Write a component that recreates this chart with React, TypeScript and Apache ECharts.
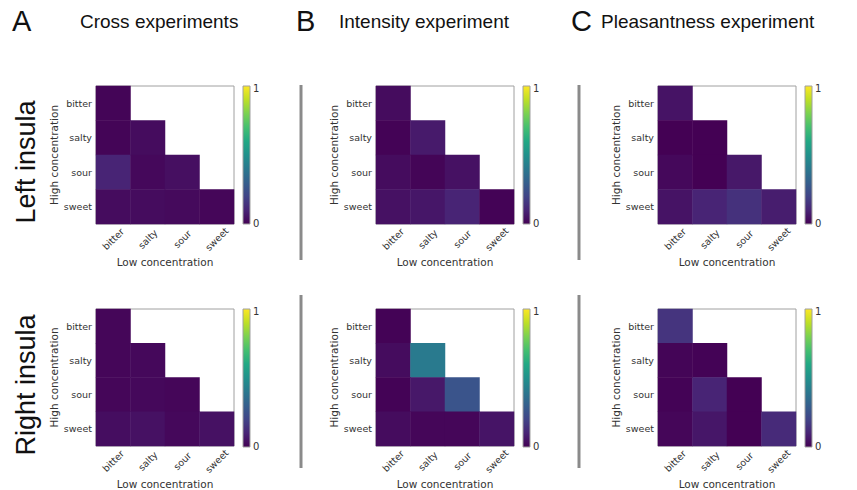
import React, { useEffect, useRef } from "react";
import * as echarts from "echarts";

const tastes = ["bitter", "salty", "sour", "sweet"];
const colTitles = ["Cross experiments", "Intensity experiment", "Pleasantness experiment"];
const colLetters = ["A", "B", "C"];
const rowTitles = ["Left insula", "Right insula"];
const scaleTicks = ["1", "0"];

// lower-triangular matrices: row = high concentration, col = low concentration
const crossLeft = [
  [0.01],
  [0.01, 0.03],
  [0.1, 0.02, 0.04],
  [0.03, 0.03, 0.025, 0.015],
];
const intensityLeft = [
  [0.03],
  [0.005, 0.07],
  [0.03, 0.01, 0.045],
  [0.045, 0.06, 0.1, 0.005],
];
const pleasantLeft = [
  [0.05],
  [0.0, 0.0],
  [0.02, 0.0, 0.065],
  [0.05, 0.1, 0.14, 0.08],
];
const crossRight = [
  [0.015],
  [0.015, 0.02],
  [0.015, 0.02, 0.015],
  [0.035, 0.045, 0.02, 0.045],
];
const intensityRight = [
  [0.005],
  [0.03, 0.41],
  [0.005, 0.065, 0.26],
  [0.03, 0.015, 0.015, 0.055],
];
const pleasantRight = [
  [0.15],
  [0.01, 0.005],
  [0.005, 0.1, 0.0],
  [0.015, 0.06, 0.0, 0.12],
];

const panels = [crossLeft, intensityLeft, pleasantLeft, crossRight, intensityRight, pleasantRight];

const viridis = [
  "#440154", "#482475", "#414487", "#355f8d", "#2a788e", "#21918c",
  "#22a884", "#44bf70", "#7ad151", "#bddf26", "#fde725",
];

const colLeft = [96, 376, 658];
const rowTop = [86, 309];
const gridW = 138;
const gridH = 138;
const tickFont = "DejaVu Sans";

export default function App() {
  const ref = useRef<HTMLDivElement>(null);
  useEffect(() => {
    if (!ref.current) return;
    const chart = echarts.init(ref.current, null, { renderer: "svg" });
    const grids: any[] = [];
    const xAxes: any[] = [];
    const yAxes: any[] = [];
    const series: any[] = [];
    const graphics: any[] = [];

    panels.forEach((mat, i) => {
      const r = Math.floor(i / 3);
      const c = i % 3;
      const left = colLeft[c];
      const top = rowTop[r];
      grids.push({
        left, top, width: gridW, height: gridH,
        show: true, borderColor: "#a0a0a0", borderWidth: 1, backgroundColor: "#fff",
      });
      xAxes.push({
        type: "category", gridIndex: i, data: tastes,
        axisLine: { show: false }, axisTick: { show: false }, splitLine: { show: false },
        axisLabel: {
          interval: 0, rotate: 45, fontSize: 9.5, color: "#333", fontFamily: tickFont,
          align: "center", verticalAlign: "middle", margin: 15,
        },
        name: "Low concentration", nameLocation: "middle", nameGap: 32,
        nameTextStyle: { fontSize: 10.5, color: "#333", fontFamily: tickFont },
      });
      yAxes.push({
        type: "category", gridIndex: i, data: tastes, inverse: true,
        axisLine: { show: false }, axisTick: { show: false }, splitLine: { show: false },
        axisLabel: { interval: 0, fontSize: 9.5, color: "#333", fontFamily: tickFont, margin: 4 },
        name: "High concentration", nameLocation: "middle", nameGap: 34,
        nameTextStyle: { fontSize: 10.5, color: "#333", fontFamily: tickFont },
      });
      const data: any[] = [];
      mat.forEach((row, y) => row.forEach((v, x) => data.push([x, y, v])));
      series.push({
        type: "heatmap", xAxisIndex: i, yAxisIndex: i, data,
        itemStyle: { borderWidth: 0 },
        emphasis: { disabled: true },
      });
      // colour bar
      const cbx = left + gridW + 9;
      graphics.push({
        type: "rect",
        shape: { x: cbx, y: top, width: 7, height: gridH },
        style: {
          fill: new echarts.graphic.LinearGradient(0, 1, 0, 0,
            viridis.map((col, k) => ({ offset: k / (viridis.length - 1), color: col }))),
          stroke: "#a0a0a0", lineWidth: 1,
        },
      });
      graphics.push({
        type: "text", x: cbx + 10, y: top + 2,
        style: { text: scaleTicks[0], fill: "#333", font: `10px ${tickFont}`, textAlign: "left", textVerticalAlign: "middle" },
      });
      graphics.push({
        type: "text", x: cbx + 10, y: top + gridH - 1,
        style: { text: scaleTicks[1], fill: "#333", font: `10px ${tickFont}`, textAlign: "left", textVerticalAlign: "middle" },
      });
    });

    // column headings
    const letterX = [12, 296, 571];
    const titleX = [80, 339, 601];
    colLetters.forEach((l, k) => {
      graphics.push({
        type: "text", x: letterX[k], y: 21,
        style: { text: l, font: "29px 'Liberation Sans'", fill: "#111", textAlign: "left", textVerticalAlign: "middle" },
      });
      graphics.push({
        type: "text", x: titleX[k], y: 21,
        style: { text: colTitles[k], font: "19px 'Liberation Sans'", fill: "#111", textAlign: "left", textVerticalAlign: "middle" },
      });
    });
    // row headings
    const rowY = [162, 385];
    rowTitles.forEach((t, k) => {
      graphics.push({
        type: "text", x: 26, y: rowY[k], rotation: Math.PI / 2,
        style: { text: t, font: "27px 'Liberation Sans'", fill: "#111", textAlign: "center", textVerticalAlign: "middle" },
      });
    });
    // separators
    const sepX = [301, 579];
    const sepY = [[85, 260], [295, 468]];
    sepX.forEach((x) => sepY.forEach(([y1, y2]) => {
      graphics.push({
        type: "line", shape: { x1: x, y1, x2: x, y2 },
        style: { stroke: "#8a8a8a", lineWidth: 3 },
      });
    }));

    chart.setOption({
      animation: false,
      backgroundColor: "#fff",
      grid: grids,
      xAxis: xAxes,
      yAxis: yAxes,
      visualMap: {
        type: "continuous", show: false, min: 0, max: 1,
        seriesIndex: series.map((_, k) => k),
        inRange: { color: viridis },
      },
      series,
      graphic: graphics,
    });
    return () => chart.dispose();
  }, []);
  return (
    <div
      ref={ref}
      style={{ position: "fixed", left: 0, top: 0, width: 857, height: 490, background: "#fff" }}
    />
  );
}
